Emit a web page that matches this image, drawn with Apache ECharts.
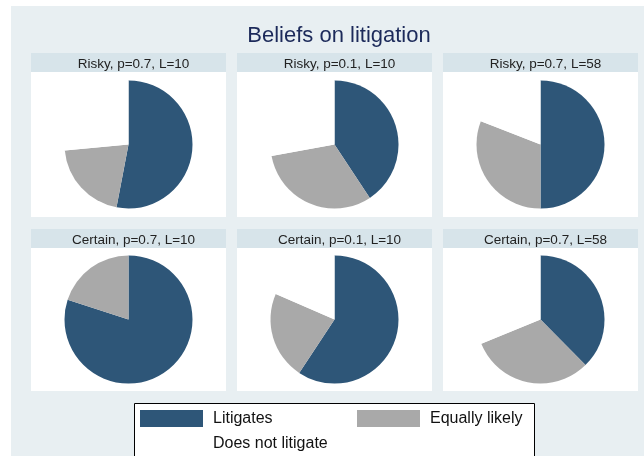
<!DOCTYPE html>
<html>
<head>
<meta charset="utf-8">
<script src="https://cdn.jsdelivr.net/npm/echarts@6/dist/echarts.min.js"></script>
<style>
  html, body { margin: 0; padding: 0; background: #fff; }
  #main { width: 644px; height: 456px; }
</style>
</head>
<body>
<div id="main"></div>
<script>
var myChart = echarts.init(document.getElementById('main'));

// data (percent of respondents)
var panels = ['Risky, p=0.7, L=10', 'Risky, p=0.1, L=10', 'Risky, p=0.7, L=58',
              'Certain, p=0.7, L=10', 'Certain, p=0.1, L=10', 'Certain, p=0.7, L=58'];
var categories = ['Litigates', 'Equally likely', 'Does not litigate'];
var litigates = [53.0, 40.7, 50.0, 80.0, 59.3, 37.6];
var equallyLikely = [20.5, 31.4, 30.9, 20.0, 22.2, 31.2];
var doesNot = [26.5, 27.9, 19.1, 0, 18.5, 31.2];

var colX = [31, 237, 443];
var panelW = 195;
var rowY = [53, 229];
var headH = 19;
var bodyH = [145, 143];

var graphics = [
    { type: 'rect', shape: { x: 11, y: 6, width: 640, height: 460 }, style: { fill: '#e8eff2' }, z: -10 },
    // legend frame
    { type: 'rect', shape: { x: 134.5, y: 403.5, width: 400, height: 70 }, style: { fill: '#fff', stroke: '#000', lineWidth: 1 }, z: -5 }
];
var titles = [{
    text: 'Beliefs on litigation',
    left: 334, top: 20, textAlign: 'center',
    textStyle: { fontFamily: 'Liberation Sans', fontSize: 22, fontWeight: 'normal', color: '#1c2a5a' }
}];
var series = [];

for (var i = 0; i < 6; i++) {
    var r = Math.floor(i / 3), c = i % 3;
    var x = colX[c], y = rowY[r];
    graphics.push({ type: 'rect', shape: { x: x, y: y, width: panelW, height: headH }, style: { fill: '#d7e4ea' }, z: -5 });
    graphics.push({ type: 'rect', shape: { x: x, y: y + headH, width: panelW, height: bodyH[r] }, style: { fill: '#ffffff' }, z: -5 });
    titles.push({
        text: panels[i],
        left: x + panelW / 2, top: y - 1, textAlign: 'center',
        textStyle: { fontFamily: 'Liberation Sans', fontSize: 13.5, fontWeight: 'normal', color: '#222' }
    });
    series.push({
        type: 'pie',
        center: [x + panelW / 2, y + headH + bodyH[r] / 2],
        radius: 64,
        startAngle: 90,
        clockwise: true,
        silent: true,
        label: { show: false },
        labelLine: { show: false },
        itemStyle: { borderWidth: 0 },
        data: [
            { name: categories[0], value: litigates[i] },
            { name: categories[1], value: equallyLikely[i] },
            { name: categories[2], value: doesNot[i] }
        ]
    });
}

var legendBase = {
    orient: 'vertical',
    top: 410,
    padding: 0,
    itemWidth: 63,
    itemHeight: 17,
    itemGap: 8,
    icon: 'rect',
    selectedMode: false,
    textStyle: { fontFamily: 'Liberation Sans', fontSize: 16, color: '#111', padding: [0, 0, 0, 5] }
};

var option = {
    animation: false,
    color: ['#2e5678', '#a9a9a9', '#ffffff'],
    title: titles,
    graphic: graphics,
    legend: [
        Object.assign({}, legendBase, { left: 140, data: [categories[0], categories[2]] }),
        Object.assign({}, legendBase, { left: 357, data: [categories[1]] })
    ],
    series: series
};

myChart.setOption(option);
</script>
</body>
</html>
